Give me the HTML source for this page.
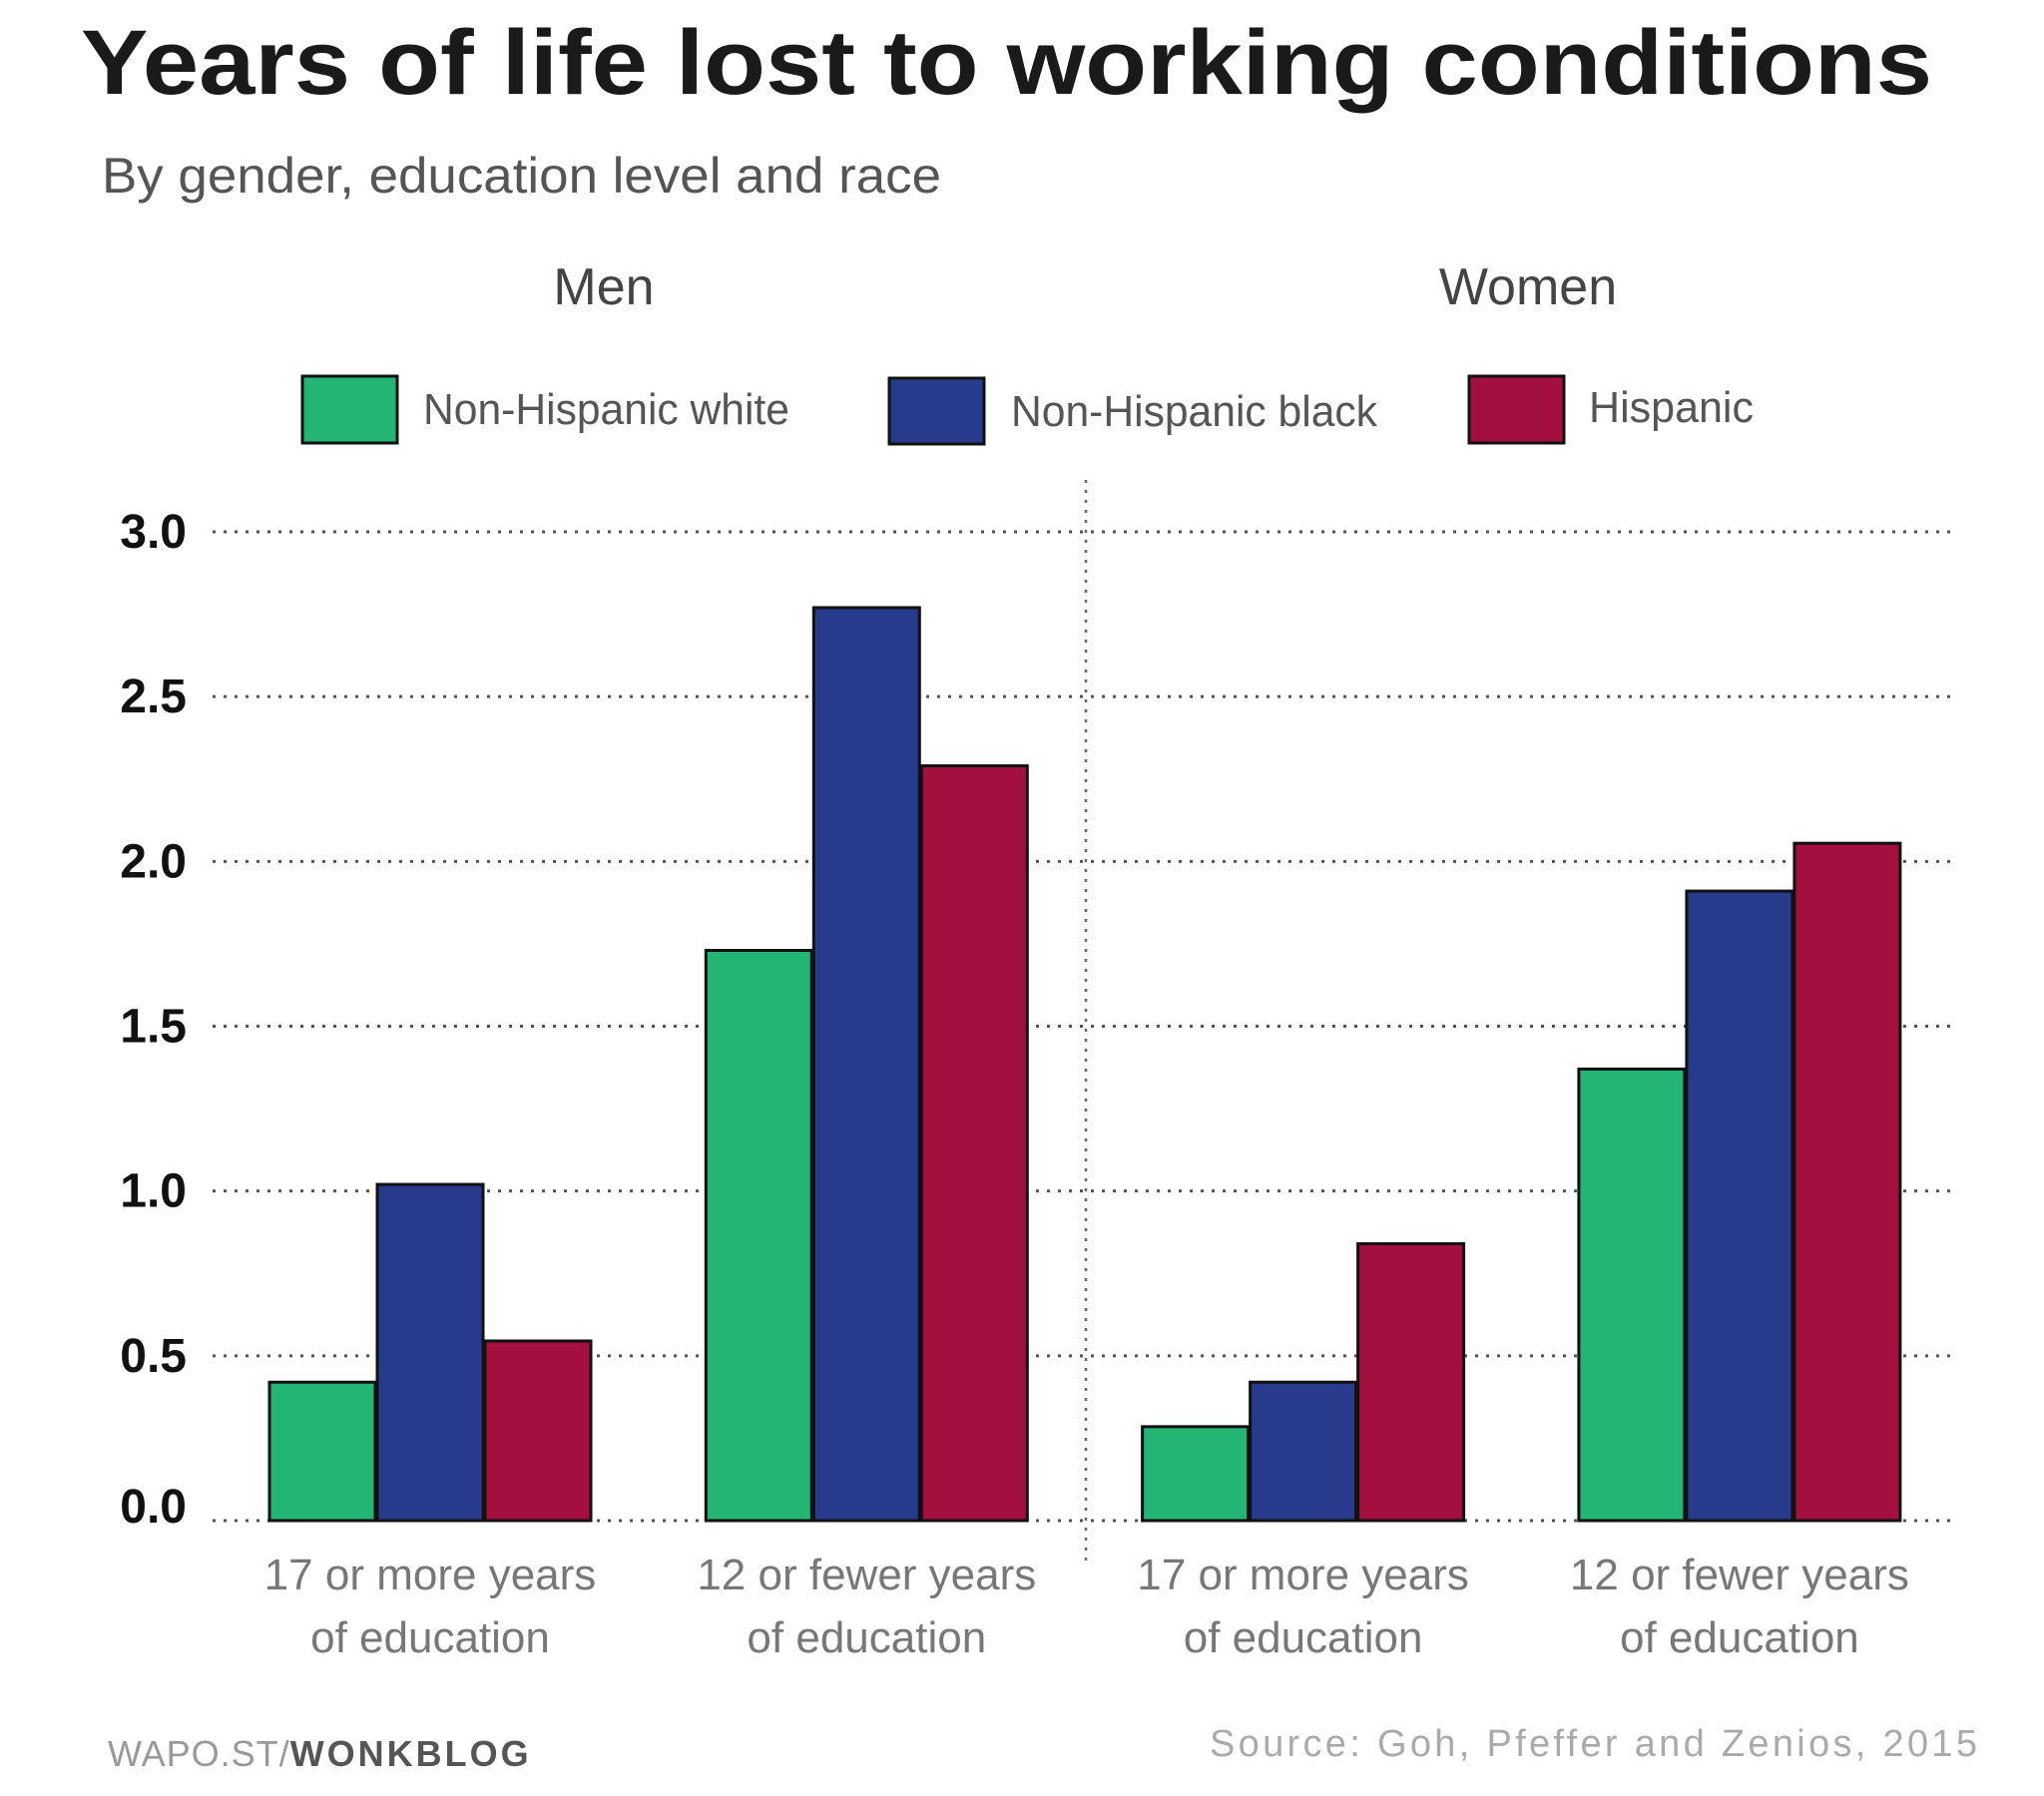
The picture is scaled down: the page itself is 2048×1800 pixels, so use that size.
<!DOCTYPE html>
<html><head><meta charset="utf-8">
<style>
html,body{margin:0;padding:0;background:#fff;}
svg{display:block;}
text{font-family:"Liberation Sans",sans-serif;}
</style></head>
<body>
<svg id="chart" width="2048" height="1800" viewBox="0 0 2048 1800" xmlns="http://www.w3.org/2000/svg">
<text x="81" y="94" font-size="92" font-weight="bold" fill="#1a1a1a" textLength="1855" lengthAdjust="spacingAndGlyphs">Years of life lost to working conditions</text>
<text x="102" y="193" font-size="50" fill="#555" textLength="841" lengthAdjust="spacingAndGlyphs">By gender, education level and race</text>
<text x="605" y="305" font-size="52" fill="#444" text-anchor="middle">Men</text>
<text x="1531" y="305" font-size="52" fill="#444" text-anchor="middle">Women</text>

<g>
  <rect x="303" y="377" width="95" height="67" fill="#22b573" stroke="#111" stroke-width="3"/>
  <text x="424" y="425" font-size="44" fill="#555" textLength="367" lengthAdjust="spacingAndGlyphs">Non-Hispanic white</text>
  <rect x="891" y="379" width="95" height="66" fill="#283a8c" stroke="#111" stroke-width="3"/>
  <text x="1013" y="427" font-size="44" fill="#555" textLength="367" lengthAdjust="spacingAndGlyphs">Non-Hispanic black</text>
  <rect x="1472" y="377" width="95" height="67" fill="#a3103f" stroke="#111" stroke-width="3"/>
  <text x="1592" y="423" font-size="44" fill="#555" textLength="165" lengthAdjust="spacingAndGlyphs">Hispanic</text>
</g>

<line x1="1088" y1="481" x2="1088" y2="1567" stroke="#666" stroke-width="2.5" stroke-dasharray="3,7"/>
<g id="grid"></g>
<g id="bars"></g>
<g id="xlabels"></g>

<text x="108" y="1770" font-size="36" fill="#999" letter-spacing="1">WAPO.ST/<tspan font-weight="bold" fill="#555" letter-spacing="3">WONKBLOG</tspan></text>
<text x="1981" y="1760" font-size="38" fill="#aaa" text-anchor="end" textLength="769" lengthAdjust="spacing">Source: Goh, Pfeffer and Zenios, 2015</text>
</svg>
<script>
const categories = ["17 or more years|of education", "12 or fewer years|of education", "17 or more years|of education", "12 or fewer years|of education"];
const seriesNames = ["Non-Hispanic white", "Non-Hispanic black", "Hispanic"];
const whiteValues = [0.42, 1.73, 0.285, 1.37];
const blackValues = [1.02, 2.77, 0.42, 1.91];
const hispanicValues = [0.545, 2.29, 0.84, 2.055];
const tickValues = [0, 0.5, 1, 1.5, 2, 2.5, 3];
const tickLabels = ["0.0", "0.5", "1.0", "1.5", "2.0", "2.5", "3.0"];

const NS = "http://www.w3.org/2000/svg";
const colors = ["#22b573", "#283a8c", "#a3103f"];
const y0 = 1524, y3 = 533;
function yScale(v){ return y0 - (y0 - y3) * v / 3; }
function xCenter(i){ return 431 + i * 437.3; }
const barW = 106, barStep = 108;

const grid = document.getElementById('grid');
tickValues.forEach((t, k) => {
  const y = yScale(t);
  const ln = document.createElementNS(NS, 'line');
  ln.setAttribute('x1', 213); ln.setAttribute('x2', 1962);
  ln.setAttribute('y1', y); ln.setAttribute('y2', y);
  ln.setAttribute('stroke', '#555'); ln.setAttribute('stroke-width', '3');
  ln.setAttribute('stroke-dasharray', '3,8');
  
  
  grid.appendChild(ln);
  const tx = document.createElementNS(NS, 'text');
  tx.setAttribute('x', 187); tx.setAttribute('y', y + (t === 0 ? 2 : 16));
  tx.setAttribute('text-anchor', 'end');
  tx.setAttribute('font-size', '48'); tx.setAttribute('font-weight', 'bold');
  tx.setAttribute('fill', '#111');
  tx.textContent = tickLabels[k];
  
  
  grid.appendChild(tx);
});

const bars = document.getElementById('bars');
const allSeries = [whiteValues, blackValues, hispanicValues];
categories.forEach((c, i) => {
  allSeries.forEach((vals, s) => {
    const v = vals[i];
    const r = document.createElementNS(NS, 'rect');
    const x = xCenter(i) + (s - 1) * barStep - barW / 2;
    r.setAttribute('x', x); r.setAttribute('width', barW);
    r.setAttribute('y', yScale(v)); r.setAttribute('height', y0 - yScale(v));
    r.setAttribute('fill', colors[s]); r.setAttribute('stroke', '#111'); r.setAttribute('stroke-width', '3');
    
    
    bars.appendChild(r);
  });
});

const xl = document.getElementById('xlabels');
categories.forEach((c, i) => {
  const lines = c.split('|');
  lines.forEach((l, j) => {
    const tx = document.createElementNS(NS, 'text');
    tx.setAttribute('x', xCenter(i)); tx.setAttribute('y', 1593 + j * 63);
    tx.setAttribute('text-anchor', 'middle');
    tx.setAttribute('font-size', '44'); tx.setAttribute('fill', '#777');
    tx.textContent = l;
    
    
    xl.appendChild(tx);
  });
});
</script>
</body></html>
